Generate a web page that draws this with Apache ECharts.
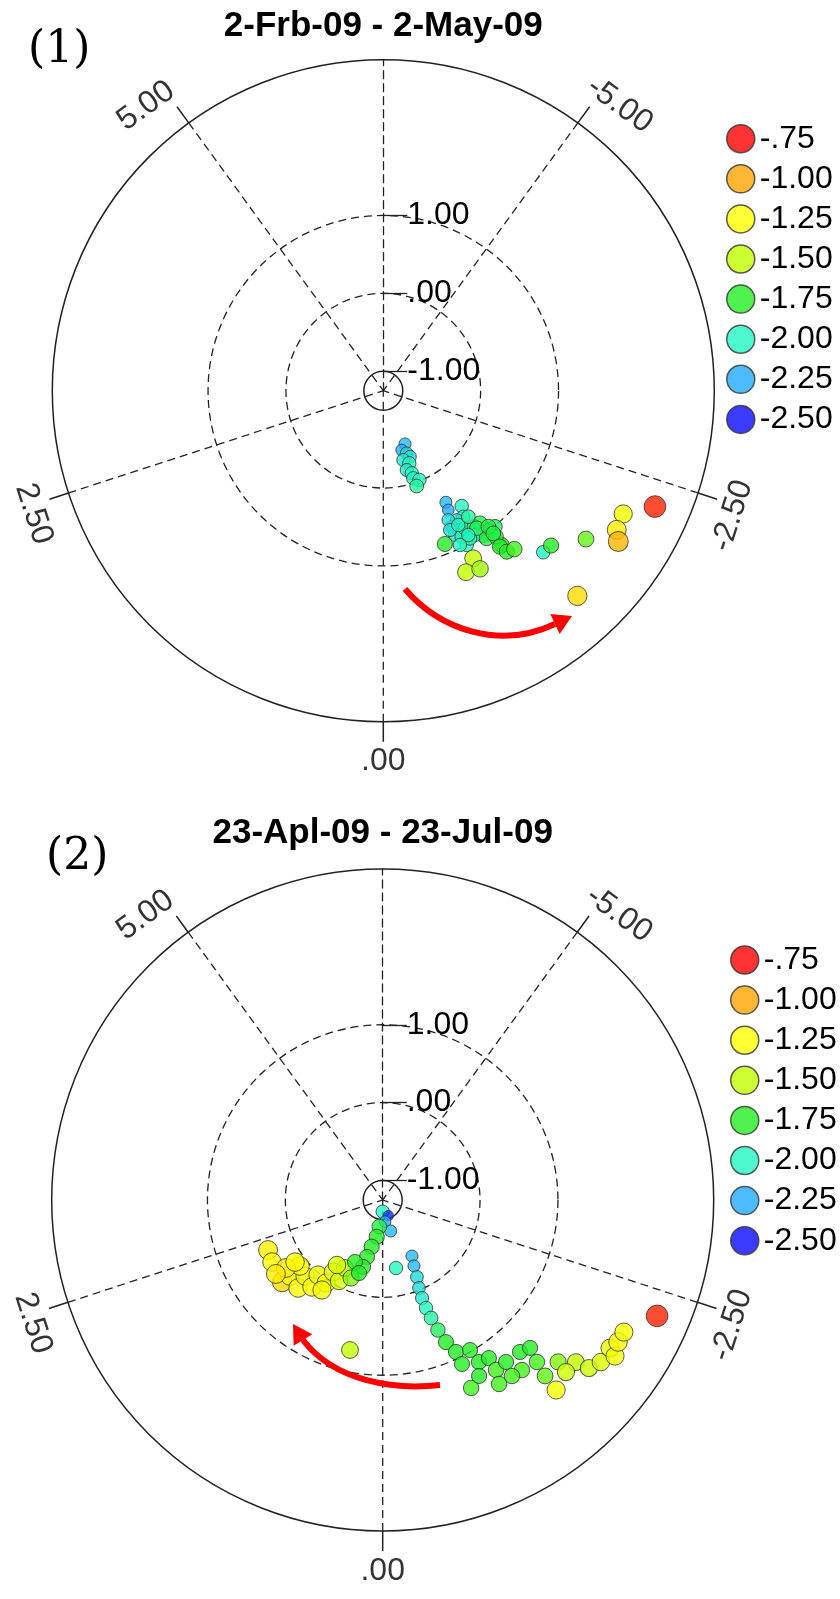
<!DOCTYPE html>
<html>
<head>
<meta charset="utf-8">
<script src="https://cdn.jsdelivr.net/npm/echarts@6/dist/echarts.min.js"></script>
<style>
html,body{margin:0;padding:0;background:#fff;}
#chart{width:840px;height:1599px;}
</style>
</head>
<body>
<div id="chart"></div>
<script>
// Axis ranges and tick values
const radiusMin = -1.25, radiusMax = 3;
const angleMin = -6.25, angleMax = 6.25;
const ringTicks = [-1, 0, 1];
const spokeTicks = [-5, -2.5, 0, 2.5, 5];

// Colour classes shown in the legend (top to bottom)
const levelValues = [-0.75, -1, -1.25, -1.5, -1.75, -2, -2.25, -2.5];
const levelColors = ['#ff0000', '#ffa500', '#ffff00', '#c0ff00', '#22ee22', '#22f8c0', '#22aaff', '#0a0aff'];

const titles = ['2-Frb-09 - 2-May-09', '23-Apl-09 - 23-Jul-09'];
const panelTags = ['(1)', '(2)'];

// Panel 1 observations: radius, angle, level
const p1Radius = [-0.512, -0.453, -0.392, -0.336, -0.324, -0.26, -0.188, -0.129, -0.061, -0.014, 0.047,
  0.393, 0.494, 0.54, 0.667, 0.659, 0.704, 0.791, 0.818, 0.877, 1.002, 0.804, 0.85, 0.857, 1.004, 1.003, 1.009, 0.945, 0.948, 1.063, 1.247, 1.117,
  0.608, 0.733, 0.725, 0.702, 0.885, 0.956, 1.063, 0.901, 0.962,
  0.871, 1.192, 1.311, 1.353, 1.25, 1.355, 1.39, 1.669, 1.681, 1.975, 2.213, 2.239, 2.335, 2.376, 2.542];
const p1Angle = [-0.771, -0.598, -0.712, -0.764, -0.559, -0.684, -0.57, -0.66, -0.656, -0.764, -0.67,
  -1.017, -0.993, -1.188, -1.125, -1.028, -0.927, -1.0, -0.917, -0.979, -0.986, -1.066, -1.174, -1.253, -1.205, -1.302, -1.368, -1.125, -1.056, -1.215, -1.302, -1.308,
  -0.927, -0.889, -1.014, -1.181, -1.188, -1.309, -1.307, -1.059, -0.917,
  -0.76, -0.979, -0.851, -0.99, -1.277, -1.302, -1.375, -1.552, -1.642, -1.868, -2.181, -2.056, -1.99, -1.507, -2.323];
const p1Level = [-2.2, -2.25, -2.1, -2.1, -2.05, -2.0, -2.05, -2.0, -2.0, -2.0, -1.95,
  -2.2, -2.25, -2.0, -2.0, -2.1, -2.15, -2.05, -2.05, -2.0, -2.0, -1.95, -1.85, -1.8, -1.8, -1.8, -1.85, -2.0, -1.95, -1.8, -1.75, -1.8,
  -2.1, -2.05, -2.0, -1.95, -1.85, -1.8, -1.8, -2.0, -2.0,
  -1.75, -1.5, -1.5, -1.55, -1.75, -1.75, -1.7, -2.0, -1.75, -1.65, -1.3, -1.2, -1.05, -1.15, -0.8];

// Panel 2 observations: radius, angle, level
// centre chain, westward cluster, cyan chain, green cluster, eastern yellows, red
const p2Radius = [-1.10, -1.036, -0.97, -0.839, -0.905, -0.772, -0.634, -0.491, -0.354,
  0.356, 0.379, 0.418, 0.289, 0.318, 0.146, 0.189, 0.022, 0.04, -0.127, -0.069, -0.251, -0.169, -0.378, -0.264, 0.109, 0.268, 0.418, 0.129, 0.144, -0.229, 0.721,
  -0.36, -0.438, -0.313, -0.168, -0.028, 0.106, 0.244, 0.387, 0.564, 0.747,
  0.916, 0.979, 1.17, 1.195, 1.373, 1.364, 1.545, 1.417, 1.326, 1.38, 1.572, 1.622, 1.824, 1.815, 1.089, 1.554, 1.431,
  2.053, 1.988, 1.978, 2.166, 2.24, 2.232, 2.343, 2.279, 2.281, 2.574];
const p2Angle = [0, -0.68, -0.21, -0.50, 0.25, 0.32, 0.46, 0.535, 0.569,
  2.306, 2.109, 1.764, 1.759, 1.524, 1.583, 1.358, 1.417, 1.191, 1.201, 0.984, 1.007, 0.767, 0.837, 0.625, 1.785, 1.906, 1.92, 1.899, 1.181, 1.219, 0.427,
  -0.385, -0.958, -0.882, -0.833, -0.778, -0.759, -0.759, -0.774, -0.799, -0.833,
  -0.894, -1.049, -1.066, -1.177, -1.17, -1.295, -1.122, -0.875, -0.997, -1.462, -1.365, -1.514, -1.483, -1.642, -0.896, -1.26, -1.559,
  -1.472, -1.736, -1.625, -1.764, -1.854, -1.976, -1.948, -2.045, -2.128, -2.33];
const p2Level = [-2.0, -2.45, -2.25, -2.2, -1.8, -1.75, -1.75, -1.75, -1.75,
  -1.2, -1.25, -1.15, -1.25, -1.25, -1.3, -1.25, -1.3, -1.3, -1.35, -1.4, -1.5, -1.6, -1.75, -1.75, -1.25, -1.2, -1.2, -1.25, -1.3, -1.4, -1.5,
  -2.0, -2.2, -2.2, -2.1, -2.1, -2.05, -2.0, -1.95, -1.85, -1.75,
  -1.75, -1.75, -1.75, -1.75, -1.7, -1.75, -1.7, -1.7, -1.75, -1.75, -1.7, -1.7, -1.65, -1.6, -1.75, -1.7, -1.75,
  -1.3, -1.5, -1.45, -1.45, -1.4, -1.35, -1.3, -1.25, -1.3, -0.8];

// ---- layout ----
const FONT = '"Liberation Sans", Arial, sans-serif';
const SERIF = '"DejaVu Serif", "Liberation Serif", serif';
const plotRadius = 331;
const panelCenters = [[383.3, 390.7], [382.7, 1200]];
const angleLabelRadius = 3.51;
// small angular nudges of the spoke labels (same order as spokeTicks)
const spokeLabelNudge = [0.125, 0.059, 0, -0.049, -0.132];
const dash = [8, 5];
const lineColor = '#222';

function fmt(v) {
  let s = Math.abs(v).toFixed(2);
  if (s.charAt(0) === '0') s = s.slice(1);
  return (v < 0 ? '-' : '') + s;
}

function zip(r, a, c) { return r.map((v, i) => [v, a[i], c[i]]); }

// tangential rotation of the angle labels
function tangentRotate(a) {
  const screen = 90 - (a - angleMin) * 360 / (angleMax - angleMin);
  let rot = screen - 90;
  while (rot <= -90) rot += 180;
  while (rot > 90) rot -= 180;
  return rot;
}

const innerRadius = plotRadius * (ringTicks[0] - radiusMin) / (radiusMax - radiusMin);

const polar = [], angleAxis = [], radiusAxis = [];
panelCenters.forEach((c) => {
  const mainIdx = polar.length;
  polar.push({ center: c, radius: plotRadius });
  angleAxis.push({
    polarIndex: mainIdx, type: 'value', min: angleMin, max: angleMax,
    startAngle: 90, clockwise: true,
    axisLine: { show: true, lineStyle: { color: lineColor, width: 1.5 } },
    axisTick: { show: true, customValues: spokeTicks, length: 20, lineStyle: { color: lineColor, width: 1.5 } },
    axisLabel: { show: false },
    splitLine: { show: true, lineStyle: { color: lineColor, width: 1.3, type: dash } }
  });
  radiusAxis.push({
    polarIndex: mainIdx, type: 'value', min: radiusMin, max: radiusMax,
    axisLine: { show: true, lineStyle: { color: lineColor, width: 1.3, type: dash } },
    // ticks and labels sit on the right-hand side of the vertical axis
    axisTick: { show: true, customValues: ringTicks, length: -24, lineStyle: { color: lineColor, width: 1.3 } },
    axisLabel: { show: true, customValues: ringTicks, formatter: fmt, margin: -24, align: 'left',
      padding: [10, 0, 0, 0], fontSize: 32, color: '#000', fontFamily: FONT },
    splitLine: { show: true, lineStyle: { color: ['transparent', lineColor, lineColor], width: 1.3, type: dash } }
  });
  // solid ring at radius -1
  const ringIdx = polar.length;
  polar.push({ center: c, radius: innerRadius });
  angleAxis.push({
    polarIndex: ringIdx, type: 'value', min: angleMin, max: angleMax, startAngle: 90,
    axisLine: { show: true, lineStyle: { color: lineColor, width: 1.5 } },
    axisTick: { show: false }, axisLabel: { show: false }, splitLine: { show: false }
  });
  radiusAxis.push({ polarIndex: ringIdx, type: 'value', min: radiusMin, max: ringTicks[0], show: false });
});

const series = [];
[zip(p1Radius, p1Angle, p1Level), zip(p2Radius, p2Angle, p2Level)].forEach((d, i) => {
  series.push({
    type: 'scatter', coordinateSystem: 'polar', polarIndex: i * 2,
    data: d, symbol: 'circle', z: 5,
    itemStyle: { borderColor: '#333', borderWidth: 1 }
  });
});
[0, 1].forEach((i) => {
  series.push({
    type: 'scatter', coordinateSystem: 'polar', polarIndex: i * 2, silent: true, clip: false,
    symbolSize: 2, itemStyle: { color: 'rgba(0,0,0,0)' },
    data: spokeTicks.map((a, k) => ({
      name: fmt(a), value: [angleLabelRadius, a + spokeLabelNudge[k]],
      label: { rotate: tangentRotate(a) }
    })),
    label: { show: true, position: 'inside', formatter: '{b}', fontSize: 32, color: '#000', fontFamily: FONT }
  });
});
levelValues.forEach((v, i) => {
  series.push({
    type: 'scatter', coordinateSystem: 'polar', polarIndex: 0, name: fmt(v), data: [],
    itemStyle: { color: levelColors[i], borderColor: '#333', borderWidth: 1.5 }
  });
});

const legendNames = levelValues.map(fmt);
const legendTops = [122.7, 944];
const legendLefts = [726, 730];
const legend = legendTops.map((t, i) => ({
  data: legendNames, orient: 'vertical', left: legendLefts[i], top: t, padding: 0,
  icon: 'circle', itemWidth: 28, itemHeight: 28, itemGap: 8.1, selectedMode: false,
  itemStyle: { borderColor: '#333', borderWidth: 1.5 },
  textStyle: { fontSize: 32, lineHeight: 28, color: '#000', fontFamily: FONT }
}));

const title = [];
panelCenters.forEach((c, i) => {
  title.push({ text: titles[i], left: c[0], top: [9, 816][i], textAlign: 'center', padding: 0,
    textStyle: { fontSize: 35, fontWeight: 'bold', color: '#000', fontFamily: FONT } });
  title.push({ text: panelTags[i], left: [28, 46][i], top: [29, 836][i], padding: 0,
    textStyle: { fontSize: 44, fontWeight: 'normal', color: '#000', fontFamily: SERIF } });
});

// curved red arrows showing the drift direction
function arrow(p0, c1, c2, p3, tip) {
  const dx = tip[0] - p3[0], dy = tip[1] - p3[1];
  const len = Math.hypot(dx, dy), px = -dy / len * 11, py = dx / len * 11;
  return [
    { type: 'bezierCurve', shape: { x1: p0[0], y1: p0[1], cpx1: c1[0], cpy1: c1[1], cpx2: c2[0], cpy2: c2[1], x2: p3[0], y2: p3[1] },
      style: { stroke: '#ff0000', lineWidth: 6, fill: null }, z: 10 },
    { type: 'polygon', shape: { points: [tip, [p3[0] + px, p3[1] + py], [p3[0] - px, p3[1] - py]] },
      style: { fill: '#ff0000' }, z: 10 }
  ];
}
const graphic = [].concat(
  arrow([405, 589], [440, 630], [500, 650], [555, 624], [572, 616]),
  arrow([440, 1385], [395, 1390], [335, 1382], [303, 1340], [293, 1324])
);

const chart = echarts.init(document.getElementById('chart'), null, { renderer: 'canvas' });
chart.setOption({
  backgroundColor: '#fff',
  animation: false,
  title, legend, polar, angleAxis, radiusAxis, series, graphic,
  visualMap: {
    type: 'continuous', show: false, dimension: 2, min: -2.5, max: -0.75, seriesIndex: [0, 1],
    inRange: { color: levelColors.slice().reverse(), symbolSize: [10, 22] }
  }
});
</script>
</body>
</html>
